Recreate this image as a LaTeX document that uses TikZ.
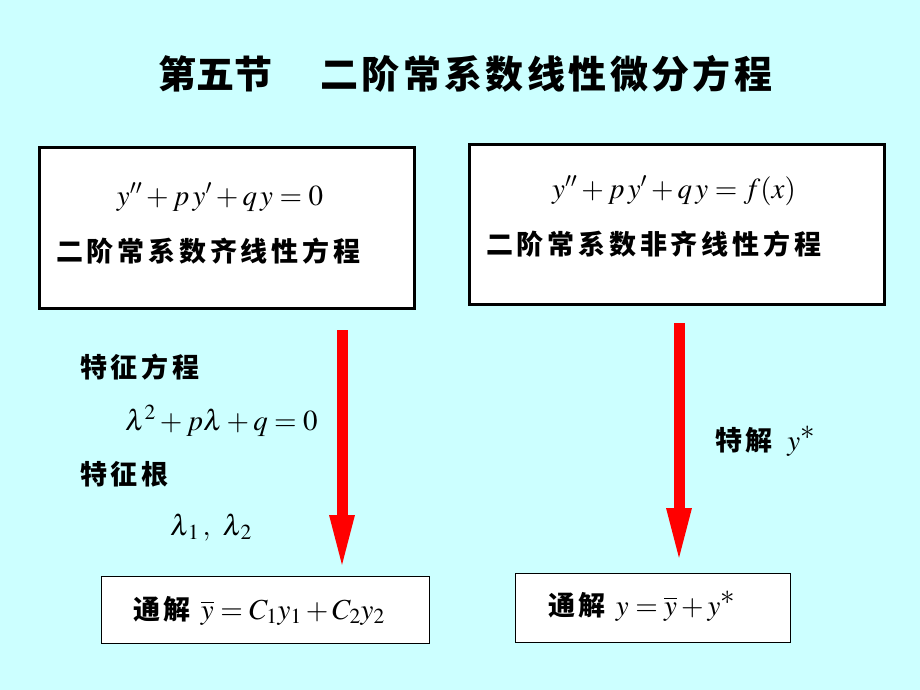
\documentclass[tikz,border=0pt]{standalone}
\usepackage{mathptmx}
\usepackage[no-math]{fontspec}
\newfontfamily\cjk{Noto Sans CJK SC}
\newfontfamily\cjkls{Noto Sans CJK SC}[LetterSpace=14]
\newfontfamily\cjktl{Noto Sans CJK SC}[LetterSpace=9]
\usetikzlibrary{arrows.meta}
\definecolor{bgc}{RGB}{204,255,255}
\definecolor{arrred}{RGB}{255,0,0}
\newcommand{\eqsize}{\fontsize{29}{34}\selectfont}
\newcommand{\ystar}{y^{\textstyle *}}
\begin{document}
\begin{tikzpicture}[x=1pt,y=-1pt,
  bigbox/.style={draw=black, line width=2.5pt, fill=white, anchor=north west, inner sep=0pt},
  smallbox/.style={draw=black, line width=1.2pt, fill=white, anchor=north west, inner sep=0pt},
  cjklabel/.style={anchor=base west, inner sep=0pt, font=\fontsize{27}{32}\selectfont\cjkls\bfseries},
  eqn/.style={anchor=base, inner sep=0pt, font=\eqsize},
  eqw/.style={anchor=base west, inner sep=0pt, font=\eqsize},
  redarrow/.style={draw=arrred, line width=11pt, -{Triangle[width=22pt,length=57pt]}}
]
\useasboundingbox[fill=bgc] (0,0) rectangle (920,690);

% title
\node[anchor=base west, inner sep=0pt, font=\fontsize{38}{44}\selectfont\cjk\bfseries] (t1) at (158,89) {第五节};
\node[anchor=base west, inner sep=0pt, font=\fontsize{38}{44}\selectfont\cjktl\bfseries] (t2) at (320,89) {二阶常系数线性微分方程};

% top boxes
\node[bigbox, minimum width=375pt, minimum height=161pt] (b1) at (38,146) {};
\node[bigbox, minimum width=415pt, minimum height=160pt] (b2) at (468,143) {};

\node[eqn] (e1) at (220,205) {$y'' + p\,y' + q\,y = 0$};
\node[cjklabel] (l1) at (56,261) {二阶常系数齐线性方程};
\node[eqn] (e2) at (674,198) {$y'' + p\,y' + q\,y = f(x)$};
\node[cjklabel] (l2) at (486,254) {二阶常系数非齐线性方程};

% left side labels
\node[cjklabel] (c1) at (80,377) {特征方程};
\node[eqw] (c2) at (125,430) {$\lambda^2 + p\lambda + q = 0$};
\node[cjklabel] (c3) at (80,484) {特征根};
\node[eqw] (c4) at (170,535) {$\lambda_{\kern2pt 1}\,,\ \lambda_{\kern2pt 2}$};

% right label
\node[cjklabel] (s1) at (715,450) {特解\ \,\eqsize$\ystar$};

% bottom boxes
\node[smallbox, minimum width=328pt, minimum height=67pt] (b3) at (101,576) {};
\node[smallbox, minimum width=275pt, minimum height=69pt] (b4) at (515,573) {};
\node[cjklabel] (g1) at (133,619) {通解\ \eqsize$\overline{y} = C_1y_1 + C_2y_2$};
\node[cjklabel] (g2) at (548,615) {通解\ \eqsize$y = \overline{y} + \ystar$};

% arrows
\coordinate (a1s) at (342,330);
\coordinate (a1e) at (342,572);
\coordinate (a2s) at (679,323);
\coordinate (a2e) at (679,565);
\draw[redarrow] (a1s) -- (a1e);
\draw[redarrow] (a2s) -- (a2e);
\end{tikzpicture}
\end{document}
